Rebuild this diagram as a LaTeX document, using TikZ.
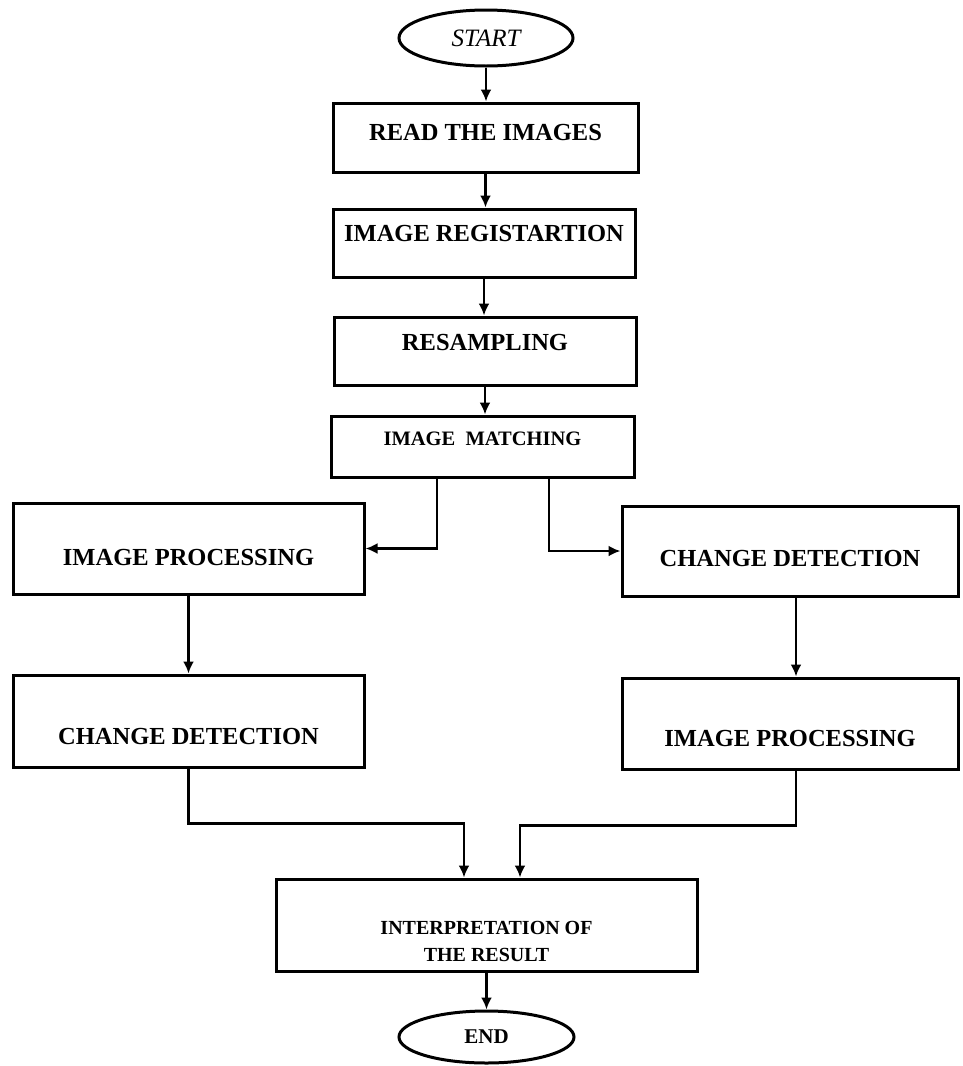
\documentclass[tikz,border=0pt]{standalone}
\usepackage{fontspec}
\setmainfont{Liberation Serif}
\usepackage{tikz}
\usetikzlibrary{arrows.meta,shapes.geometric,positioning}

\begin{document}
\begin{tikzpicture}
                    [x=1pt, y=-1pt, auto=left]
                    \tikzset{edge/.style = {->, > = {Latex[length=12pt, width=11pt]}, line width=2.4pt},
                             box/.style = {rectangle, draw, line width=3pt, font=\fontsize{24.5}{28}\selectfont\bfseries, align=center},
                             term/.style = {ellipse, draw, line width=3pt, font=\fontsize{25}{28}\selectfont},
                             lift/.style = {text depth=#1},
                             drop/.style = {text height=#1}}
                    \useasboundingbox (0,0) rectangle (962,1066);
                    \node[term, minimum width=174pt, minimum height=56pt] (start) at (486,38)    {\itshape START};
                    \node[box, lift=10pt, minimum width=305pt, minimum height=69pt] (read)   at (485.5,137.5) {READ THE IMAGES};
                    \node[box, lift=20pt, minimum width=302pt, minimum height=68pt] (reg)    at (484,243)  {IMAGE REGISTARTION};
                    \node[box, lift=18pt, minimum width=302pt, minimum height=68pt] (res)    at (485,351)  {RESAMPLING};
                    \node[box, lift=16pt, minimum width=303pt, minimum height=61pt, font=\fontsize{20.5}{24}\selectfont\bfseries] (match) at (482.5,446.5) {IMAGE\ \ MATCHING};
                    \node[box, drop=34pt, minimum width=351pt, minimum height=91pt] (ipl)    at (188.5,548.5) {IMAGE PROCESSING};
                    \node[box, drop=32pt, minimum width=336pt, minimum height=90pt] (cdr)    at (790,551)  {CHANGE DETECTION};
                    \node[box, drop=48pt, minimum width=351pt, minimum height=92pt] (cdl)    at (188.5,721) {CHANGE DETECTION};
                    \node[box, drop=46pt, minimum width=336pt, minimum height=91pt] (ipr)    at (790,723.5) {IMAGE PROCESSING};
                    \node[box, minimum width=421pt, minimum height=92pt, font=\fontsize{20}{27}\selectfont\bfseries] (interp) at (486.5,925) {\rule{0pt}{46pt}INTERPRETATION OF\\ THE RESULT};
                    \node[term, minimum width=175pt, minimum height=52pt, font=\fontsize{21}{24}\selectfont\bfseries] (end) at (486.5,1037) {END};

                    \foreach \from/\to in {start/read,read/reg,reg/res,res/match,interp/end}
                        \draw[edge] (\from.south) -- (\from.south |- \to.north);
                    \draw[edge] (ipl) -- (cdl);
                    \draw[edge] ([xshift=6pt]cdr.south) -- ([xshift=6pt]ipr.north);
                    \draw[edge] ([xshift=-45.5pt]match.south) |- (ipl.east);
                    \draw[edge] ([xshift=66.5pt]match.south) |- (cdr.west);
                    \draw[edge] (cdl.south) -- ++(0,55) -| ([xshift=-22.5pt]interp.north);
                    \draw[edge] ([xshift=6pt]ipr.south) -- ++(0,55) -| ([xshift=33.5pt]interp.north);
                \end{tikzpicture}
\end{document}
